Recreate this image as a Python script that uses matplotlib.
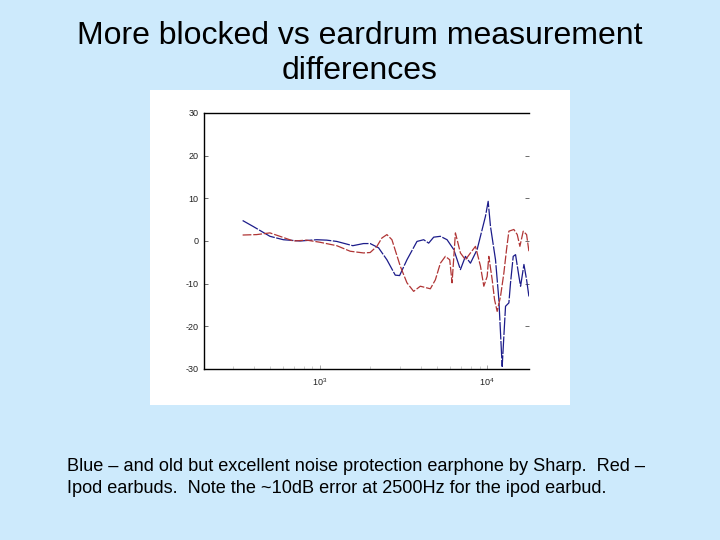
import numpy as np
import matplotlib
matplotlib.use('Agg')
import matplotlib.pyplot as plt
from matplotlib.patches import Rectangle
from matplotlib.ticker import LogLocator, NullFormatter

plt.rcParams['font.family'] = ['Liberation Sans', 'DejaVu Sans']

# --- Data: frequency [Hz] vs difference [dB]
f_blue = [344, 398, 501, 603, 759, 955, 1096, 1259, 1570, 1820, 1995, 2239, 2512, 2818,
          2992, 3311, 3802, 4169, 4467, 4786, 5248, 5754, 6310, 6918, 7413, 7943, 8710,
          9333, 9772, 10140, 10470, 11220, 11750, 12300, 12880, 13490, 13800, 14320,
          14790, 15490, 15850, 16600, 17220, 17780]
db_blue = [4.8, 3.4, 1.1, 0.3, 0.0, 0.3, 0.2, -0.1, -1.1, -0.6, -0.6, -1.6, -4.4, -8.0,
           -8.1, -4.4, -0.1, 0.3, -0.5, 0.9, 1.1, 0.3, -2.0, -6.7, -3.6, -5.2, -2.0,
           2.7, 5.8, 9.3, 3.4, -4.4, -13.75, -29.4, -15.3, -14.5, -9.8, -3.6,
           -3.2, -8.3, -10.6, -5.5, -9.1, -13.0]

f_red = [344, 417, 501, 575, 692, 832, 1000, 1259, 1514, 1820, 1995, 2188, 2344, 2512,
         2692, 3020, 3311, 3631, 3981, 4571, 4898, 5248, 5623, 5970, 6166, 6457, 6918,
         7413, 7943, 8511, 9120, 9550, 10000, 10230, 10720, 11070, 11480, 12020, 12590,
         13060, 13490, 14450, 15140, 15700, 16440, 17220, 17780]
db_red = [1.4, 1.5, 1.9, 1.1, 0.0, 0.2, -0.3, -1.1, -2.4, -2.8, -2.7, -1.25, 0.7, 1.5,
          0.3, -5.9, -9.8, -11.8, -10.6, -11.2, -9.1, -5.2, -3.6, -4.4, -9.8, 1.9, -2.8,
          -4.4, -2.8, -1.25, -5.9, -10.6, -8.3, -3.6, -9.1, -13.75, -16.5, -13.0, -7.5,
          -2.0, 2.3, 2.7, 1.5, -1.25, 2.3, 1.5, -2.4]

yticks = [-30, -20, -10, 0, 10, 20, 30]

title = 'More blocked vs eardrum measurement\ndifferences'
caption = ('Blue \u2013 and old but excellent noise protection earphone by Sharp.  Red \u2013\n'
           'Ipod earbuds.  Note the ~10dB error at 2500Hz for the ipod earbud.')

bg = '#cdeafc'
c_blue = '#1c1c8a'
c_red = '#b03535'

# --------------------------------------------------------------------------------
fig = plt.figure(figsize=(7.2, 5.4), dpi=100)
fig.patch.set_facecolor(bg)

# white "pasted image" panel
fig.patches.append(Rectangle((150/720, 1-405/540), 420/720, 315/540,
                             transform=fig.transFigure, facecolor='white',
                             edgecolor='none', zorder=-1))

ax = fig.add_axes([204/720, 1-369/540, 325/720, 256/540])
ax.set_zorder(1)
ax.set_facecolor('white')
ax.plot(f_blue, db_blue, '-', color=c_blue, lw=0.9, dashes=(14, 1.2))
ax.plot(f_red, db_red, '-', color=c_red, lw=0.9, dashes=(7, 1.5))

ax.set_xscale('log')
ax.set_xlim(202, 17800)
ax.set_ylim(-30, 30)
ax.set_yticks(yticks)
ax.set_yticklabels([str(v) for v in yticks])
ax.xaxis.set_major_locator(LogLocator(base=10))
ax.xaxis.set_minor_locator(LogLocator(base=10, subs=np.arange(2, 10)))
ax.xaxis.set_minor_formatter(NullFormatter())

for s in ['left', 'top', 'bottom']:
    ax.spines[s].set_linewidth(1.0)
    ax.spines[s].set_color('black')
ax.spines['right'].set_visible(False)

ax.tick_params(axis='y', which='major', direction='in', length=3, width=0.6,
               labelsize=6.5, right=True, color='#555555', labelcolor='#222222', pad=4)
ax.tick_params(axis='x', which='major', direction='in', length=3, width=0.6,
               labelsize=6.5, color='#999999', labelcolor='#222222', pad=5)
ax.tick_params(axis='x', which='minor', direction='in', length=2, width=0.5,
               color='#bbbbbb')

fig.text(0.5, 1-21/540, title, ha='center', va='top', fontsize=23, linespacing=1.2)
fig.text(67/720, 1-458/540, caption, ha='left', va='top', fontsize=13.1, linespacing=1.42)

fig.savefig('out.png', dpi=100, facecolor=bg)
